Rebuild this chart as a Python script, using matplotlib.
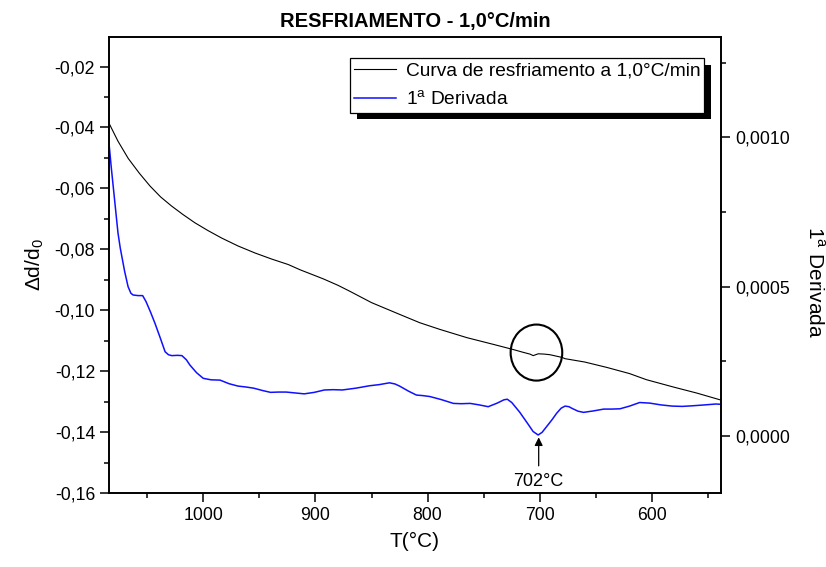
import matplotlib
matplotlib.use("Agg")
import matplotlib.pyplot as plt
from matplotlib.ticker import MultipleLocator, FuncFormatter
from matplotlib.patches import Ellipse, Rectangle

plt.rcParams['font.family'] = ['Liberation Sans', 'DejaVu Sans']
plt.rcParams['mathtext.fontset'] = 'custom'
plt.rcParams['mathtext.rm'] = 'Liberation Sans'

# Cooling curve (left axis): temperature (°C) and Δd/d0
curve_T = [1084, 1076, 1066.8, 1057, 1047.5, 1038, 1028.2, 1018, 1007.4, 996,
           983.6, 969, 953.9, 939, 924.2, 913.8, 893, 880, 869.2, 850, 824.7,
           807, 789, 765, 741.5, 723.7, 715, 708.8, 705.9, 701.4, 696, 691, 680,
           677.6, 660, 640, 620, 605, 580, 560, 538.5]
curve_y = [-0.0386, -0.0445, -0.0502, -0.0550, -0.0592, -0.0628, -0.0658, -0.0686,
           -0.0713, -0.0738, -0.0763, -0.0789, -0.0812, -0.0832, -0.0850, -0.0867,
           -0.0897, -0.0918, -0.0938, -0.0975, -0.1014, -0.1041, -0.1063, -0.1090,
           -0.1112, -0.1129, -0.1138, -0.1144, -0.1149, -0.1143, -0.1144, -0.1146,
           -0.1155, -0.1159, -0.1170, -0.1188, -0.1208, -0.1228, -0.1253, -0.1272,
           -0.1295]

# First derivative (right axis)
deriv_T = [1084, 1082, 1079, 1076, 1074, 1070, 1067, 1064.5, 1062.5, 1058, 1054,
           1051, 1047, 1043, 1038, 1034, 1031, 1028, 1023, 1019, 1015, 1012, 1006,
           1000, 993, 985, 977, 969, 962, 955, 947, 940, 933, 926, 918, 910, 901,
           892, 884, 876, 864, 852, 843, 834, 829, 825, 817, 810, 804, 798, 788,
           777, 770, 762, 754, 746, 738, 732, 729, 725, 718, 711, 706, 701.5, 698,
           694, 689, 685, 681, 677.5, 674, 671.6, 666, 661, 652, 643, 636, 628.5,
           620, 611, 602, 592, 582, 573, 564, 553, 543, 538.5]
deriv_v = [0.00098, 0.00090, 0.00079, 0.00068, 0.00063, 0.00055, 0.00050, 0.000478,
           0.000472, 0.000470, 0.000470, 0.000450, 0.000415, 0.000377, 0.000325,
           0.000282, 0.000272, 0.000269, 0.000270, 0.000269, 0.000255, 0.000238,
           0.000212, 0.000193, 0.000188, 0.000187, 0.000175, 0.000167, 0.000164,
           0.000160, 0.000152, 0.000146, 0.000147, 0.000147, 0.000144, 0.000141,
           0.000146, 0.000154, 0.000155, 0.000154, 0.000160, 0.000168, 0.000172,
           0.000178, 0.000174, 0.000167, 0.000150, 0.000137, 0.000135, 0.000132,
           0.000122, 0.000109, 0.000108, 0.000109, 0.000104, 0.000098, 0.000110,
           0.000121, 0.000123, 0.000112, 0.000080, 0.0000425, 0.000015, 0.0000033,
           0.000012, 0.000031, 0.000055, 0.000076, 0.000093, 0.000100, 0.000098,
           0.000093, 0.000083, 0.000079, 0.000084, 0.000090, 0.000090, 0.000091,
           0.000100, 0.000112, 0.000110, 0.000104, 0.000100, 0.000099, 0.000101,
           0.000104, 0.000107, 0.000106]

peak_T = 702
left_ticks = [-0.02, -0.04, -0.06, -0.08, -0.10, -0.12, -0.14, -0.16]
right_ticks = [0.0000, 0.0005, 0.0010]
x_ticks = [1000, 900, 800, 700, 600]

fig = plt.figure(figsize=(8.26, 5.67), dpi=100)
ax = fig.add_axes([109/826, 1-493/567, (721-109)/826, (493-36.7)/567])
ax2 = ax.twinx()

ax.plot(curve_T, curve_y, color='black', lw=0.8)
ax2.plot(deriv_T, deriv_v, color='#1010ff', lw=1.1)

ax.set_xlim(1084, 538.5)
ax.set_ylim(-0.16, -0.0102)
ax2.set_ylim(-0.000191, 0.001337)

ax.set_xticks(x_ticks)
ax.xaxis.set_minor_locator(MultipleLocator(50))
ax.set_yticks(left_ticks)
ax.yaxis.set_minor_locator(MultipleLocator(0.01))
ax2.set_yticks(right_ticks)
ax2.yaxis.set_minor_locator(MultipleLocator(0.00025))

comma2 = FuncFormatter(lambda v, p: f"{v:.2f}".replace('.', ','))
comma4 = FuncFormatter(lambda v, p: f"{v:.4f}".replace('.', ',').replace('-0,0000', '0,0000'))
ax.yaxis.set_major_formatter(comma2)
ax2.yaxis.set_major_formatter(comma4)

for a in (ax, ax2):
    for s in a.spines.values():
        s.set_linewidth(1.2)
ax.tick_params(axis='both', which='major', direction='out', length=6.5, width=1.1,
               labelsize=12.7, top=False, right=False)
ax.tick_params(axis='both', which='minor', direction='out', length=3.8, width=1.1,
               top=False, right=False)
ax2.tick_params(axis='y', which='major', direction='out', length=6.5, width=1.1, labelsize=12.7)
ax2.tick_params(axis='y', which='minor', direction='out', length=3.8, width=1.1)

ax.set_xlabel('T(°C)', fontsize=15, labelpad=6)
ax.set_ylabel(r'$\Delta$d/d$_0$', fontsize=15, labelpad=6)
ax2.set_ylabel(r'1$^{\mathrm{a}}$ Derivada', fontsize=15, rotation=270,
               va='center', ha='center')
ax2.yaxis.set_label_coords(1.1536, 0.4624)
ax.set_title('RESFRIAMENTO - 1,0°C/min', fontsize=14.5, fontweight='bold', pad=7)

# Circle highlighting the cooling-curve anomaly
ax.add_patch(Ellipse((peak_T + 1, -0.1139), 46, 0.0184, fill=False, lw=1.5,
                     edgecolor='black', zorder=3))

# Arrow to derivative minimum
ax2.annotate('', xy=(peak_T - 1, 0.0000), xytext=(peak_T - 1, -0.0001),
             arrowprops=dict(arrowstyle='-|>', color='black', lw=0.9,
                             mutation_scale=12, shrinkA=0, shrinkB=1))
ax2.text(peak_T - 1, -0.000125, '702°C', ha='center', va='top', fontsize=13)

leg = ax2.legend(ax.get_lines() + ax2.get_lines(),
                 ['Curva de resfriamento a 1,0°C/min', r'1$^{\mathrm{a}}$ Derivada'],
                 loc='upper left', bbox_to_anchor=(350/826, 1-58.3/567),
                 bbox_transform=fig.transFigure, borderaxespad=0,
                 fontsize=13.8, frameon=True, fancybox=False, edgecolor='black',
                 framealpha=1, borderpad=0.2, handlelength=2.2, handletextpad=0.5,
                 labelspacing=0.55)
leg.get_frame().set_linewidth(0.9)
leg.set_zorder(10)

fig.canvas.draw()
bb = leg.get_window_extent()
off = 6.5
shadow = Rectangle((bb.x0 + off, bb.y0 - off), bb.width, bb.height,
                   transform=None, facecolor='black', edgecolor='none', zorder=9)
ax2.add_artist(shadow)

fig.savefig('out.png', dpi=100)
